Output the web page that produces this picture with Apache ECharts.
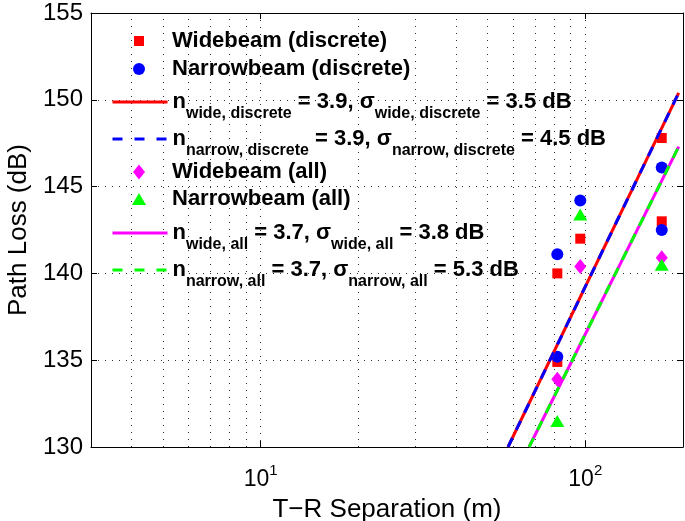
<!DOCTYPE html>
<html>
<head>
<meta charset="utf-8">
<script src="https://cdn.jsdelivr.net/npm/echarts@6/dist/echarts.min.js"></script>
<style>
html, body { margin: 0; padding: 0; background: #fff; }
#chart { width: 685px; height: 521px; }
</style>
</head>
<body>
<div id="chart"></div>
<script>
var FONT = 'Liberation Sans, Arial, Helvetica, sans-serif'

// measured points: [T-R separation (m), path loss (dB)]
var wideDiscrete = [[82, 134.9], [82, 140.0], [96.5, 142.0], [172, 147.8], [172, 143.0]]
var narrowDiscrete = [[82, 135.2], [82, 141.1], [96.5, 144.2], [172, 146.1], [172, 142.5]]
var wideAll = [[82, 133.9], [96.5, 140.4], [172, 140.9]]
var narrowAll = [[82, 131.5], [96.5, 143.4], [172, 140.5]]

// fitted path loss lines, end points
var fitWideDiscrete = [[57.8, 130], [194, 150.4]]
var fitNarrowDiscrete = [[57.8, 130], [194, 150.4]]
var fitWideAll = [[67.1, 130], [194, 147.3]]
var fitNarrowAll = [[67.1, 130], [194, 147.3]]

// x minor grid (log decades)
var minorX = [4, 5, 6, 7, 8, 9, 20, 30, 40, 50, 60, 70, 80, 90]

var names = [
  'Widebeam (discrete)',
  'Narrowbeam (discrete)',
  'fitWideDiscrete',
  'fitNarrowDiscrete',
  'Widebeam (all)',
  'Narrowbeam (all)',
  'fitWideAll',
  'fitNarrowAll'
]
var labels = {
  'fitWideDiscrete': '{m|n}{s|wide, discrete}{m| = 3.9, \u03c3}{s|wide, discrete}{m| = 3.5 dB}',
  'fitNarrowDiscrete': '{m|n}{s|narrow, discrete}{m| = 3.9, \u03c3}{s|narrow, discrete}{m| = 4.5 dB}',
  'fitWideAll': '{m|n}{s|wide, all}{m| = 3.7, \u03c3}{s|wide, all}{m| = 3.8 dB}',
  'fitNarrowAll': '{m|n}{s|narrow, all}{m| = 3.7, \u03c3}{s|narrow, all}{m| = 5.3 dB}'
}

var chart = echarts.init(document.getElementById('chart'))

function scatterSeries(name, data, symbol, size, color) {
  return {
    name: name,
    type: 'scatter',
    data: data,
    symbol: symbol,
    symbolSize: size,
    itemStyle: { color: color, opacity: 1 },
    emphasis: { disabled: true }
  }
}

function lineSeries(name, data, color, dashed) {
  return {
    name: name,
    type: 'line',
    data: data,
    symbol: 'none',
    color: color,
    lineStyle: { color: color, width: 3, type: dashed ? [10, 9] : 'solid' },
    emphasis: { disabled: true }
  }
}

// one legend per row so the rows can be placed like the original
function markerLegend(name, cy, w, h) {
  var pad = 172 - (139 + w / 2 + 5)
  return {
    data: [name],
    left: 139 - w / 2,
    top: cy - 10,
    padding: 0,
    itemWidth: w,
    itemHeight: h,
    selectedMode: false,
    formatter: '{m|{name}}',
    textStyle: {
      rich: {
        m: { fontSize: 22, fontWeight: 'bold', fontFamily: FONT, color: '#000', padding: [0, 0, 0, pad] }
      }
    }
  }
}

function lineLegend(name, cy, dashed) {
  return {
    data: [name],
    left: 111,
    top: cy - 9,
    padding: 0,
    itemWidth: 55,
    itemHeight: 14,
    selectedMode: false,
    itemStyle: { opacity: 0 },
    lineStyle: { width: 3, type: dashed ? [10, 12] : 'solid' },
    formatter: function (n) { return labels[n] },
    textStyle: {
      rich: {
        m: { fontSize: 22, fontWeight: 'bold', fontFamily: FONT, color: '#000' },
        s: { fontSize: 16, fontWeight: 'bold', fontFamily: FONT, color: '#000', padding: [24, 0, 0, 0] }
      }
    }
  }
}

var gridLine = { type: [1, 6], color: '#333', width: 1 }
var tickStyle = { inside: true, length: 6, lineStyle: { color: '#000', width: 1 } }

var series = [
  scatterSeries(names[0], wideDiscrete, 'rect', 10, '#ff0000'),
  scatterSeries(names[1], narrowDiscrete, 'circle', 12, '#0000ff'),
  lineSeries(names[2], fitWideDiscrete, '#ff0000', false),
  lineSeries(names[3], fitNarrowDiscrete, '#0000ff', true),
  scatterSeries(names[4], wideAll, 'diamond', [12, 15], '#ff00ff'),
  scatterSeries(names[5], narrowAll, 'triangle', [14, 12], '#00ff00'),
  lineSeries(names[6], fitWideAll, '#ff00ff', false),
  lineSeries(names[7], fitNarrowAll, '#00ff00', true)
]
series[0].markLine = {
  silent: true,
  z: 1,
  symbol: 'none',
  label: { show: false },
  lineStyle: gridLine,
  animation: false,
  data: minorX.map(function (v) { return { xAxis: v } })
}

var option = {
  animation: false,
  backgroundColor: '#fff',
  textStyle: { fontFamily: FONT },
  grid: { left: 91, right: 2, top: 13, bottom: 74, outerBoundsMode: 'none', containLabel: false },
  legend: [
    markerLegend(names[0], 40, 10, 10),
    markerLegend(names[1], 68, 12, 12),
    lineLegend(names[2], 100, false),
    lineLegend(names[3], 137, true),
    markerLegend(names[4], 171, 12, 15),
    markerLegend(names[5], 198, 14, 12),
    lineLegend(names[6], 231, false),
    lineLegend(names[7], 268, true)
  ],
  xAxis: [{
    type: 'log',
    logBase: 10,
    min: 3,
    max: 200,
    position: 'bottom',
    name: 'T\u2212R Separation (m)',
    nameLocation: 'middle',
    nameGap: 34,
    nameTextStyle: { fontSize: 26, color: '#000', fontFamily: FONT },
    axisLine: { lineStyle: { color: '#000', width: 1 } },
    axisTick: tickStyle,
    axisLabel: {
      margin: 16,
      showMinLabel: false,
      showMaxLabel: false,
      formatter: function (v) {
        var e = Math.round(Math.log(v) / Math.LN10)
        if (Math.abs(Math.pow(10, e) - v) > 1e-6 * v) return ''
        return '{b|10}{e|' + e + '}'
      },
      rich: {
        b: { fontSize: 23, color: '#000', fontFamily: FONT },
        e: { fontSize: 15, color: '#000', fontFamily: FONT, padding: [0, 0, 19, 0] }
      }
    },
    splitLine: { show: true, lineStyle: gridLine }
  }, {
    type: 'log',
    logBase: 10,
    min: 3,
    max: 200,
    position: 'top',
    axisLine: { lineStyle: { color: '#000', width: 1 } },
    axisTick: tickStyle,
    axisLabel: { show: false },
    splitLine: { show: false }
  }],
  yAxis: [{
    type: 'value',
    min: 130,
    max: 155,
    interval: 5,
    position: 'left',
    name: 'Path Loss (dB)',
    nameLocation: 'middle',
    nameGap: 53,
    nameTextStyle: { fontSize: 26, color: '#000', fontFamily: FONT },
    axisLine: { show: true, lineStyle: { color: '#000', width: 1 } },
    axisTick: tickStyle,
    axisLabel: { fontSize: 24, color: '#000', margin: 8, fontFamily: FONT },
    splitLine: { show: true, lineStyle: gridLine }
  }, {
    type: 'value',
    min: 130,
    max: 155,
    interval: 5,
    position: 'right',
    axisLine: { show: true, lineStyle: { color: '#000', width: 1 } },
    axisTick: tickStyle,
    axisLabel: { show: false },
    splitLine: { show: false }
  }],
  series: series
}

chart.setOption(option)
</script>
</body>
</html>
